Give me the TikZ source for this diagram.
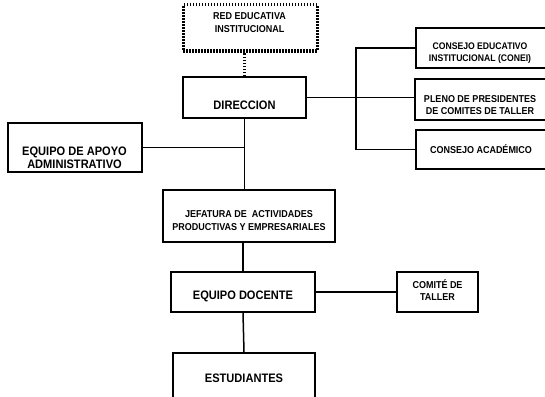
\documentclass[tikz,border=0pt]{standalone}
\usepackage{fontspec}
\setmainfont{Liberation Sans}[FakeStretch=0.9]
\begin{document}
\begin{tikzpicture}[x=1pt,y=-1pt,
  box/.style={draw=black,line width=2pt,rectangle,inner sep=0pt,fill=white},
  dotbox/.style={draw=black,line width=3pt,dash pattern=on 1.5pt off 1.5pt,rectangle,inner sep=0pt},
  conn/.style={draw=black,line width=1.5pt},
  dotconn/.style={draw=black,line width=3pt,dash pattern=on 1.5pt off 1.5pt},
  big/.style={font=\bfseries\fontsize{12.3}{12.5}\selectfont,align=center,inner sep=0pt},
  small/.style={font=\bfseries\fontsize{10}{12.3}\selectfont,align=center,inner sep=0pt}]
\useasboundingbox (0,0) rectangle (545,396);
\clip (0,0) rectangle (545,396);
\fill[white] (0,0) rectangle (545,396);
% boxes
\node[dotbox,minimum width=134pt,minimum height=46pt] (red) at (250,28) {};
\node[box,minimum width=123pt,minimum height=41pt] (dir) at (244.5,97.5) {};
\node[box,minimum width=133pt,minimum height=40pt] (conei) at (482.5,48) {};
\node[box,minimum width=135pt,minimum height=41pt] (pleno) at (482.5,99.5) {};
\node[box,minimum width=134pt,minimum height=39pt] (acad) at (483,149.5) {};
\node[box,minimum width=134pt,minimum height=49pt] (apoyo) at (75,147.5) {};
\node[box,minimum width=172pt,minimum height=52pt] (jef) at (249,216) {};
\node[box,minimum width=144pt,minimum height=40pt] (doc) at (243,292) {};
\node[box,minimum width=81pt,minimum height=40pt] (comite) at (437.5,292) {};
\node[box,minimum width=142pt,minimum height=50pt] (est) at (244,378) {};
% connectors
\draw[dotconn] (dir.north) -- (dir.north |- red.south);
\draw[conn] (dir.east) -- (dir.east -| pleno.west);
\coordinate (bus) at (356,98);
\draw[conn] (conei.west) -- (conei.west -| bus) -- (acad.west -| bus) -- (acad.west);
\draw[conn] (dir.south) -- (dir.south |- jef.north);
\draw[conn] (apoyo.east) -- (apoyo.east -| dir.south);
\draw[conn] (doc.north |- jef.south) -- (doc.north);
\draw[conn] (doc.east) -- (comite.west);
\draw[conn] (doc.south) -- (est.north);
% texts
\node[small,font=\bfseries\fontsize{10}{12.8}\selectfont] (tred) at (249.5,22.4) {RED EDUCATIVA\\INSTITUCIONAL};
\node[big] (tdir) at (244.5,105) {DIRECCION};
\node[small,font=\bfseries\fontsize{9.6}{12}\selectfont] (tconei) at (480,53.5) {CONSEJO EDUCATIVO\\INSTITUCIONAL (CONEI)};
\node[small,font=\bfseries\fontsize{10}{11.6}\selectfont] (tpleno) at (480,105) {PLENO DE PRESIDENTES\\DE COMITES DE TALLER};
\node[small] (tacad) at (481,149.2) {CONSEJO ACADÉMICO};
\node[big] (tapoyo) at (74.5,158) {EQUIPO DE APOYO\\ADMINISTRATIVO};
\node[small,font=\bfseries\fontsize{10}{12.2}\selectfont] (tjef) at (249,220.6) {JEFATURA DE \ ACTIVIDADES\\PRODUCTIVAS Y EMPRESARIALES};
\node[big] (tdoc) at (243,296.7) {EQUIPO DOCENTE};
\node[small,font=\bfseries\fontsize{10}{12.6}\selectfont] (tcom) at (437.5,290) {COMITÉ DE\\TALLER};
\node[big] (test) at (244,378) {ESTUDIANTES};
\end{tikzpicture}
\end{document}
